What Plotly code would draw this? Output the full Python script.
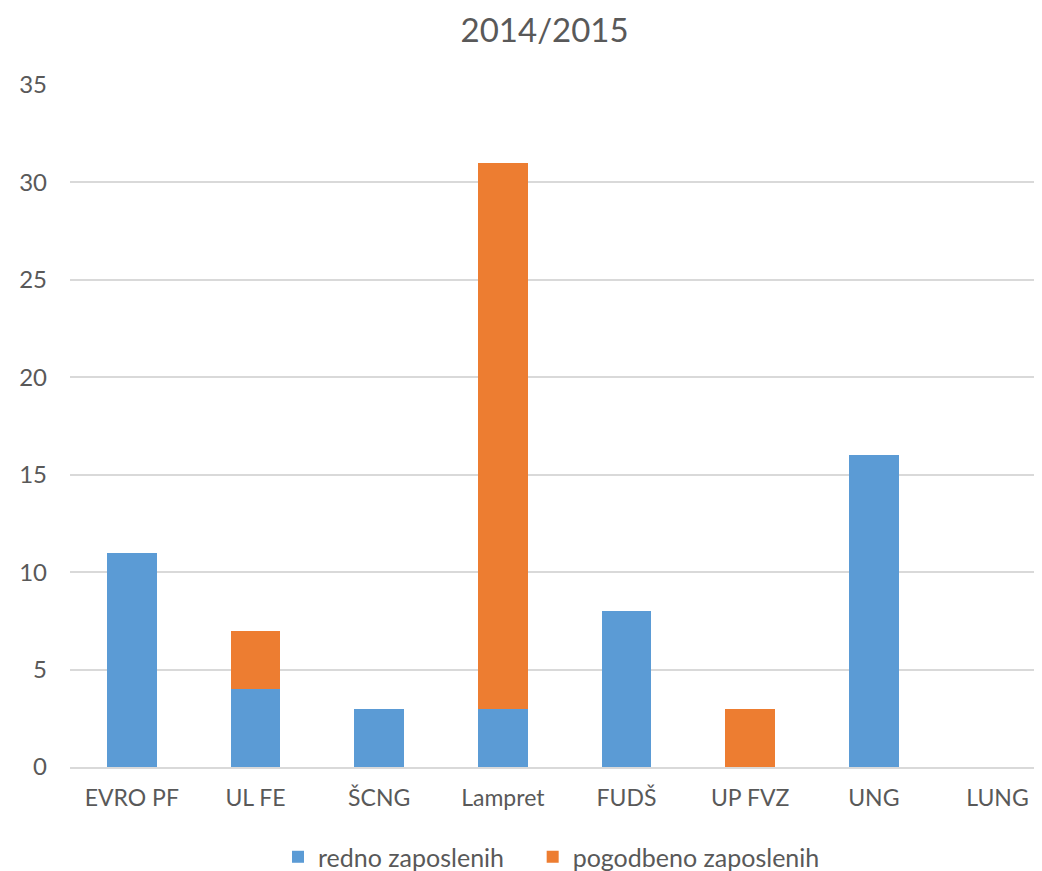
import plotly.graph_objects as go

categories = ["EVRO PF", "UL FE", "ŠCNG", "Lampret", "FUDŠ", "UP FVZ", "UNG", "LUNG"]
redno = [11, 4, 3, 3, 8, 0, 16, 0]
pogodbeno = [0, 3, 0, 28, 0, 3, 0, 0]

font_fam = "Lato, 'Open Sans', sans-serif"
gray = "#595959"

fig = go.Figure()
fig.add_trace(go.Bar(x=list(range(len(categories))), y=redno, name="redno zaposlenih",
                     marker=dict(color="#5B9BD5", line=dict(width=0)), width=0.4, legend="legend"))
fig.add_trace(go.Bar(x=list(range(len(categories))), y=pogodbeno, name="pogodbeno zaposlenih",
                     marker=dict(color="#ED7D31", line=dict(width=0)), width=0.4, legend="legend2"))

H = 900
leg_common = dict(orientation="h", y=-0.132, yanchor="middle", xanchor="left",
                  font=dict(size=25, color=gray), itemwidth=30, bgcolor="rgba(0,0,0,0)")
fig.update_layout(
    barmode="stack",
    width=1042, height=H,
    margin=dict(l=62, r=8, t=77, b=H - 759),
    paper_bgcolor="white", plot_bgcolor="white",
    font=dict(family=font_fam, color=gray, size=23),
    title=dict(text="2014/2015", x=0.515, xanchor="center", y=1 - 22 / H, yanchor="middle",
               font=dict(size=33, color=gray, family=font_fam)),
    xaxis=dict(tickmode="array", tickvals=list(range(len(categories))), ticktext=categories,
               range=[-0.5, 7.36], showgrid=False, showline=True, linecolor="#D9D9D9", linewidth=1.5,
               ticks="", tickfont=dict(size=23, color=gray), zeroline=False, ticklabelstandoff=10,
               automargin=False),
    yaxis=dict(range=[0, 35], dtick=5, showgrid=True, gridcolor="#D9D9D9", gridwidth=1.5,
               zeroline=False, showline=False, ticks="", ticklabelstandoff=22,
               tickfont=dict(size=24, color=gray), automargin=False),
    legend=dict(x=0.214, **leg_common),
    legend2=dict(x=0.476, **leg_common),
    showlegend=True,
)
fig.write_html("out.html")
